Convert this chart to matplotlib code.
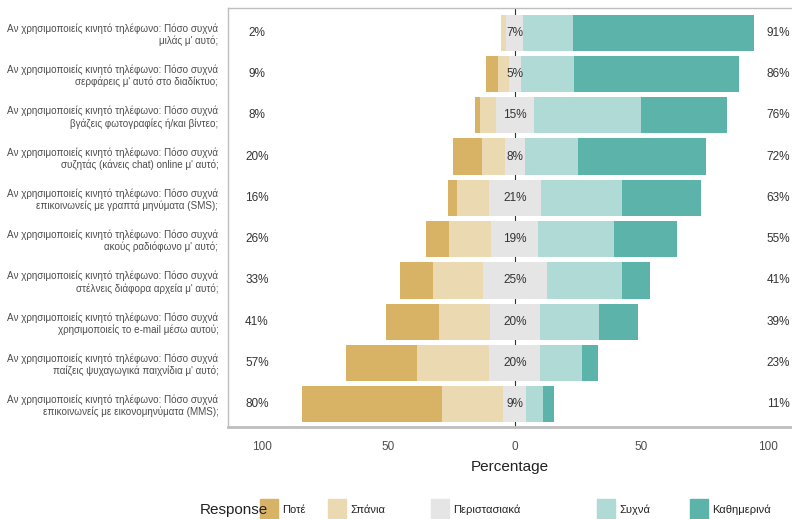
import numpy as np
import matplotlib
matplotlib.use("Agg")
import matplotlib.pyplot as plt
from matplotlib.patches import Rectangle

# ==============================
# DATOS
# ==============================

prefijo = "Αν χρησιμοποιείς κινητό τηλέφωνο: Πόσο συχνά"
preguntas = [
    "μιλάς μ' αυτό;",
    "σερφάρεις μ' αυτό στο διαδίκτυο;",
    "βγάζεις φωτογραφίες ή/και βίντεο;",
    "συζητάς (κάνεις chat) online μ' αυτό;",
    "επικοινωνείς με γραπτά μηνύματα (SMS);",
    "ακούς ραδιόφωνο μ' αυτό;",
    "στέλνεις διάφορα αρχεία μ' αυτό;",
    "χρησιμοποιείς το e-mail μέσω αυτού;",
    "παίζεις ψυχαγωγικά παιχνίδια μ' αυτό;",
    "επικοινωνείς με εικονομηνύματα (MMS);",
]

respuestas = ["Ποτέ", "Σπάνια", "Περιστασιακά", "Συχνά", "Καθημερινά"]

pote = [0.0, 5.1, 2.0, 11.3, 3.7, 9.1, 13.0, 21.0, 28.0, 55.6]
spania = [2.2, 4.0, 6.4, 9.1, 12.6, 16.7, 19.9, 20.2, 28.7, 24.2]
peristasiaka = [6.7, 5.0, 14.9, 7.8, 20.7, 18.6, 25.3, 19.6, 20.2, 9.1]
sychna = [19.7, 20.8, 42.3, 21.2, 31.9, 29.7, 29.5, 23.4, 16.3, 6.6]
kathimerina = [71.4, 65.1, 33.9, 50.6, 31.1, 24.9, 11.4, 15.3, 6.6, 4.2]

colores = ["#D9B365", "#EBD9B2", "#E5E5E5", "#AFDAD6", "#5BB3A9"]

ticks_x = [-100, -50, 0, 50, 100]
etiquetas_x = ["100", "50", "0", "50", "100"]

# ==============================
# ESTILO
# ==============================

plt.rcParams["font.family"] = ["Liberation Sans Narrow", "Liberation Sans", "DejaVu Sans"]
gris_texto = "#4D4D4D"

fig = plt.figure(figsize=(7.92, 5.19), dpi=100)
ax = fig.add_axes([228 / 792, 92 / 519, 1 - 228 / 792, 419 / 519])

n = len(preguntas)
y = np.arange(n)[::-1]  # primera pregunta arriba

pote = np.array(pote)
spania = np.array(spania)
neutro = np.array(peristasiaka)
sychna = np.array(sychna)
kath = np.array(kathimerina)

alto = 0.88
ax.axvline(0, color="#333333", lw=0.8, zorder=0)

# lado negativo
izq_neutro = -neutro / 2
ax.barh(y, neutro, left=izq_neutro, height=alto, color=colores[2], zorder=2)
ax.barh(y, -spania, left=izq_neutro, height=alto, color=colores[1], zorder=2)
ax.barh(y, -pote, left=izq_neutro - spania, height=alto, color=colores[0], zorder=2)
# lado positivo
der_neutro = neutro / 2
ax.barh(y, sychna, left=der_neutro, height=alto, color=colores[3], zorder=2)
ax.barh(y, kath, left=der_neutro + sychna, height=alto, color=colores[4], zorder=2)

# etiquetas de porcentaje
for yi, a, b, c, d, e in zip(y, pote, spania, neutro, sychna, kath):
    ax.text(-102, yi, f"{round(a + b):.0f}%", ha="center", va="center",
            fontsize=8.5, color="#333333")
    ax.text(0, yi, f"{round(c):.0f}%", ha="center", va="center",
            fontsize=8.5, color="#333333", zorder=3)
    ax.text(104, yi, f"{round(d + e):.0f}%", ha="center", va="center",
            fontsize=8.5, color="#333333")

ax.set_xlim(-113.4, 109.5)
ax.set_ylim(-0.55, 9.6)

ax.set_yticks(y)
ax.set_yticklabels([prefijo + "\n" + p for p in preguntas], fontsize=7.1,
                   color=gris_texto, linespacing=1.2)
ax.set_xticks(ticks_x)
ax.set_xticklabels(etiquetas_x, fontsize=8.5, color=gris_texto)
ax.tick_params(axis="both", length=0)
ax.tick_params(axis="y", pad=7)
ax.tick_params(axis="x", pad=10)
ax.set_xlabel("Percentage", fontsize=11, color="#222222", labelpad=5)

for lado in ["left", "top"]:
    ax.spines[lado].set_color("#BEBEBE")
    ax.spines[lado].set_linewidth(1.0)
ax.spines["bottom"].set_color("#BEBEBE")
ax.spines["bottom"].set_linewidth(2.0)
ax.spines["right"].set_visible(False)

# ==============================
# LEYENDA
# ==============================

fig.text(200 / 792, 1 - 510 / 519, "Response", fontsize=11, color="#222222",
         ha="left", va="center")
cajas_x = [260, 328, 431, 597, 690]
for cx, col, txt in zip(cajas_x, colores, respuestas):
    fig.add_artist(Rectangle((cx / 792, 1 - 519 / 519), 18 / 792, 20 / 519,
                             transform=fig.transFigure, color=col))
    fig.text((cx + 22) / 792, 1 - 510 / 519, txt, fontsize=8,
             color="#222222", ha="left", va="center")

fig.savefig("out.png", dpi=100)
